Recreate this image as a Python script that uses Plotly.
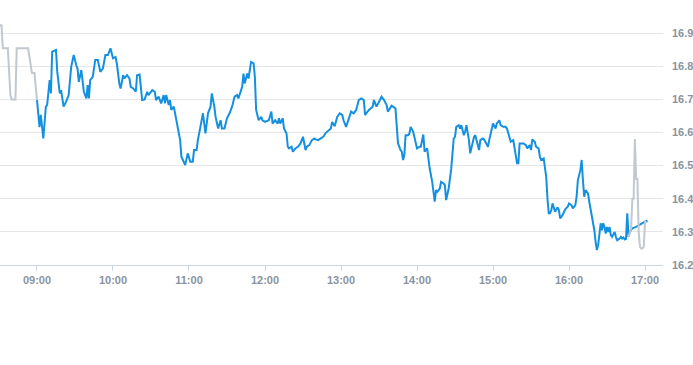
import pandas as pd
import plotly.graph_objects as go

DAY = "2024-01-02 "

# Pre-market (grey)
pre_times = ["08:30", "08:32", "08:33", "08:37", "08:39", "08:40", "08:43", "08:44",
             "08:53", "08:56", "08:58", "09:00"]
pre_vals = [16.924, 16.924, 16.854, 16.854, 16.713, 16.700, 16.700, 16.854,
            16.854, 16.780, 16.780, 16.698]

# Regular session (blue)
main_times = [
    "09:00", "09:02", "09:03", "09:05", "09:07", "09:08", "09:10", "09:11", "09:12", "09:15",
    "09:16", "09:18", "09:19", "09:21", "09:23", "09:25", "09:27", "09:29", "09:31", "09:32",
    "09:33", "09:35", "09:37", "09:39", "09:40", "09:41", "09:42", "09:44", "09:46", "09:48",
    "09:50", "09:52", "09:54", "09:56", "09:58", "10:00", "10:02", "10:03", "10:05", "10:06",
    "10:08", "10:09", "10:11", "10:13", "10:14", "10:16", "10:18", "10:19", "10:21", "10:23",
    "10:25", "10:27", "10:28", "10:31", "10:33", "10:34", "10:36", "10:38", "10:40", "10:41",
    "10:42", "10:44", "10:45", "10:46", "10:48", "10:49", "10:51", "10:53", "10:54", "10:55",
    "10:57", "10:59", "11:01", "11:03", "11:04", "11:06", "11:07", "11:09", "11:11", "11:13",
    "11:14", "11:15", "11:17", "11:18", "11:20", "11:21", "11:23", "11:25", "11:26", "11:28",
    "11:30", "11:32", "11:34", "11:36", "11:38", "11:39", "11:42", "11:43", "11:44", "11:46",
    "11:47", "11:48", "11:49", "11:51", "11:52", "11:53", "11:55", "11:57", "11:58", "12:00",
    "12:03", "12:05", "12:06", "12:08", "12:10", "12:11", "12:12", "12:14", "12:15", "12:17",
    "12:18", "12:19", "12:21", "12:22", "12:24", "12:26", "12:28", "12:30", "12:32", "12:33",
    "12:35", "12:37", "12:39", "12:40", "12:42", "12:44", "12:46", "12:48", "12:50", "12:52",
    "12:53", "12:55", "12:57", "12:59", "13:01", "13:02", "13:04", "13:06", "13:08", "13:10",
    "13:12", "13:14", "13:16", "13:18", "13:19", "13:22", "13:24", "13:25", "13:26", "13:28",
    "13:30", "13:32", "13:34", "13:36", "13:37", "13:39", "13:40", "13:43", "13:44", "13:45",
    "13:47", "13:48", "13:49", "13:50", "13:51", "13:53", "13:54", "13:55", "13:57", "13:58",
    "14:00", "14:02", "14:03", "14:05", "14:06", "14:08", "14:09", "14:10", "14:12", "14:14",
    "14:15", "14:16", "14:18", "14:19", "14:21", "14:22", "14:23", "14:25", "14:26", "14:27",
    "14:29", "14:30", "14:31", "14:33", "14:34", "14:35", "14:37", "14:38", "14:39", "14:40",
    "14:41", "14:42", "14:44", "14:45", "14:46", "14:48", "14:49", "14:50", "14:52", "14:53",
    "14:54", "14:56", "14:57", "14:59", "15:00", "15:02", "15:03", "15:05", "15:06", "15:08",
    "15:10", "15:11", "15:13", "15:14", "15:16", "15:17", "15:18", "15:19", "15:20", "15:21",
    "15:23", "15:24", "15:26", "15:27", "15:29", "15:30", "15:31", "15:33", "15:34", "15:36",
    "15:37", "15:38", "15:40", "15:41", "15:42", "15:43", "15:44", "15:45", "15:46", "15:47",
    "15:48", "15:49", "15:51", "15:52", "15:53", "15:55", "15:57", "15:59", "16:00", "16:02",
    "16:03", "16:05", "16:06", "16:07", "16:09", "16:10", "16:11", "16:12", "16:13", "16:15",
    "16:16", "16:17", "16:19", "16:20", "16:21", "16:22", "16:23", "16:24", "16:25", "16:26",
    "16:27", "16:28", "16:29", "16:30", "16:31", "16:32", "16:33", "16:34", "16:36", "16:37",
    "16:38", "16:40", "16:41", "16:42", "16:43", "16:44", "16:45", "16:46", "16:47", "16:48",
    "16:50", "16:53", "16:56", "16:59", "17:01", "17:02",
]
main_vals = [
    16.698, 16.616, 16.653, 16.582, 16.678, 16.683, 16.758, 16.718, 16.844, 16.849,
    16.783, 16.718, 16.728, 16.678, 16.693, 16.713, 16.798, 16.834, 16.803, 16.793,
    16.753, 16.788, 16.723, 16.703, 16.743, 16.703, 16.758, 16.768, 16.819, 16.819,
    16.783, 16.793, 16.834, 16.834, 16.854, 16.824, 16.828, 16.809, 16.748, 16.733,
    16.773, 16.763, 16.773, 16.763, 16.738, 16.733, 16.723, 16.773, 16.775, 16.698,
    16.700, 16.723, 16.713, 16.728, 16.723, 16.698, 16.708, 16.688, 16.713, 16.688,
    16.713, 16.683, 16.698, 16.668, 16.678, 16.658, 16.617, 16.577, 16.527, 16.517,
    16.502, 16.537, 16.512, 16.512, 16.547, 16.547, 16.577, 16.617, 16.658, 16.597,
    16.632, 16.658, 16.678, 16.718, 16.678, 16.647, 16.612, 16.637, 16.612, 16.612,
    16.643, 16.658, 16.678, 16.708, 16.713, 16.703, 16.738, 16.778, 16.748, 16.778,
    16.763, 16.788, 16.813, 16.809, 16.768, 16.668, 16.637, 16.647, 16.637, 16.632,
    16.637, 16.663, 16.627, 16.637, 16.627, 16.643, 16.627, 16.643, 16.612, 16.597,
    16.557, 16.552, 16.557, 16.542, 16.552, 16.557, 16.567, 16.587, 16.547, 16.557,
    16.562, 16.577, 16.582, 16.579, 16.577, 16.582, 16.587, 16.599, 16.607, 16.612,
    16.632, 16.619, 16.647, 16.658, 16.653, 16.637, 16.617, 16.643, 16.663, 16.658,
    16.668, 16.698, 16.703, 16.698, 16.653, 16.668, 16.673, 16.678, 16.698, 16.678,
    16.693, 16.708, 16.698, 16.683, 16.663, 16.678, 16.681, 16.673, 16.627, 16.567,
    16.547, 16.542, 16.517, 16.532, 16.592, 16.592, 16.597, 16.617, 16.602, 16.587,
    16.552, 16.557, 16.557, 16.594, 16.542, 16.552, 16.517, 16.492, 16.451, 16.391,
    16.426, 16.421, 16.431, 16.451, 16.446, 16.441, 16.396, 16.431, 16.461, 16.490,
    16.582, 16.587, 16.617, 16.622, 16.612, 16.622, 16.592, 16.602, 16.622, 16.602,
    16.577, 16.537, 16.577, 16.587, 16.592, 16.567, 16.547, 16.577, 16.582, 16.579,
    16.572, 16.557, 16.577, 16.617, 16.627, 16.612, 16.627, 16.637, 16.622, 16.617,
    16.617, 16.612, 16.587, 16.572, 16.577, 16.552, 16.517, 16.507, 16.507, 16.567,
    16.567, 16.567, 16.562, 16.552, 16.562, 16.547, 16.579, 16.572, 16.557, 16.552,
    16.527, 16.517, 16.522, 16.500, 16.466, 16.400, 16.356, 16.356, 16.366, 16.386,
    16.371, 16.361, 16.374, 16.366, 16.341, 16.351, 16.368, 16.376, 16.386, 16.381,
    16.371, 16.381, 16.406, 16.456, 16.487, 16.517, 16.456, 16.406, 16.426, 16.416,
    16.391, 16.371, 16.331, 16.305, 16.270, 16.245, 16.260, 16.300, 16.326, 16.305,
    16.326, 16.315, 16.295, 16.315, 16.300, 16.315, 16.290, 16.285, 16.300, 16.285,
    16.275, 16.280, 16.285, 16.280, 16.283, 16.277, 16.279, 16.356, 16.285, 16.300,
    16.311, 16.315, 16.321, 16.328, 16.333, 16.331,
]

# After-hours (grey)
post_times = ["16:47", "16:48", "16:49", "16:50", "16:51", "16:52", "16:53", "16:54",
              "16:55", "16:56", "16:57", "16:58", "16:59", "17:00", "17:01"]
post_vals = [16.285, 16.300, 16.310, 16.400, 16.400, 16.580, 16.460, 16.460,
             16.300, 16.255, 16.250, 16.250, 16.255, 16.330, 16.333]

hour_ticks = ["09:00", "10:00", "11:00", "12:00", "13:00", "14:00", "15:00", "16:00", "17:00"]
price_ticks = [16.2, 16.3, 16.4, 16.5, 16.6, 16.7, 16.8, 16.9]

assert len(main_times) == len(main_vals)


def ts(lst):
    return pd.to_datetime([DAY + t for t in lst])


BLUE = "#1490e0"
GREY = "#c0c8d0"
LABEL = "#8a93a0"

fig = go.Figure()
fig.add_trace(go.Scatter(x=ts(pre_times), y=pre_vals, mode="lines",
                         line=dict(color=GREY, width=2), hoverinfo="skip"))
fig.add_trace(go.Scatter(x=ts(main_times), y=main_vals, mode="lines",
                         line=dict(color=BLUE, width=2), hoverinfo="skip"))
fig.add_trace(go.Scatter(x=ts(post_times), y=post_vals, mode="lines",
                         line=dict(color=GREY, width=2), hoverinfo="skip"))

tickfont = dict(family="Liberation Sans, Arial, sans-serif", size=11, color=LABEL, weight="bold")

fig.update_layout(
    width=693, height=365,
    margin=dict(l=0, r=30, t=0, b=100, autoexpand=False),
    paper_bgcolor="white", plot_bgcolor="white",
    showlegend=False,
    xaxis=dict(
        type="date",
        range=[DAY + "08:30:48", DAY + "17:14:12"],
        tickvals=list(ts(hour_ticks)),
        ticktext=hour_ticks,
        showgrid=False, zeroline=False,
        showline=True, linecolor="#ccd6eb", linewidth=1,
        ticks="outside", ticklen=5, tickcolor="#ccd6eb",
        tickfont=tickfont,
    ),
    yaxis=dict(
        side="right",
        range=[16.2, 17.0],
        tickvals=price_ticks,
        ticktext=[f"{v:.1f}" for v in price_ticks],
        showgrid=True, gridcolor="#e6e6e6", gridwidth=1,
        zeroline=False, showline=False, ticks="",
        ticklabelstandoff=8,
        automargin=False,
        tickfont=tickfont,
    ),
)

fig.write_html(
    "out.html",
    config={"displayModeBar": False},
    post_script="document.body.style.margin='0';document.body.style.overflow='hidden';",
)
